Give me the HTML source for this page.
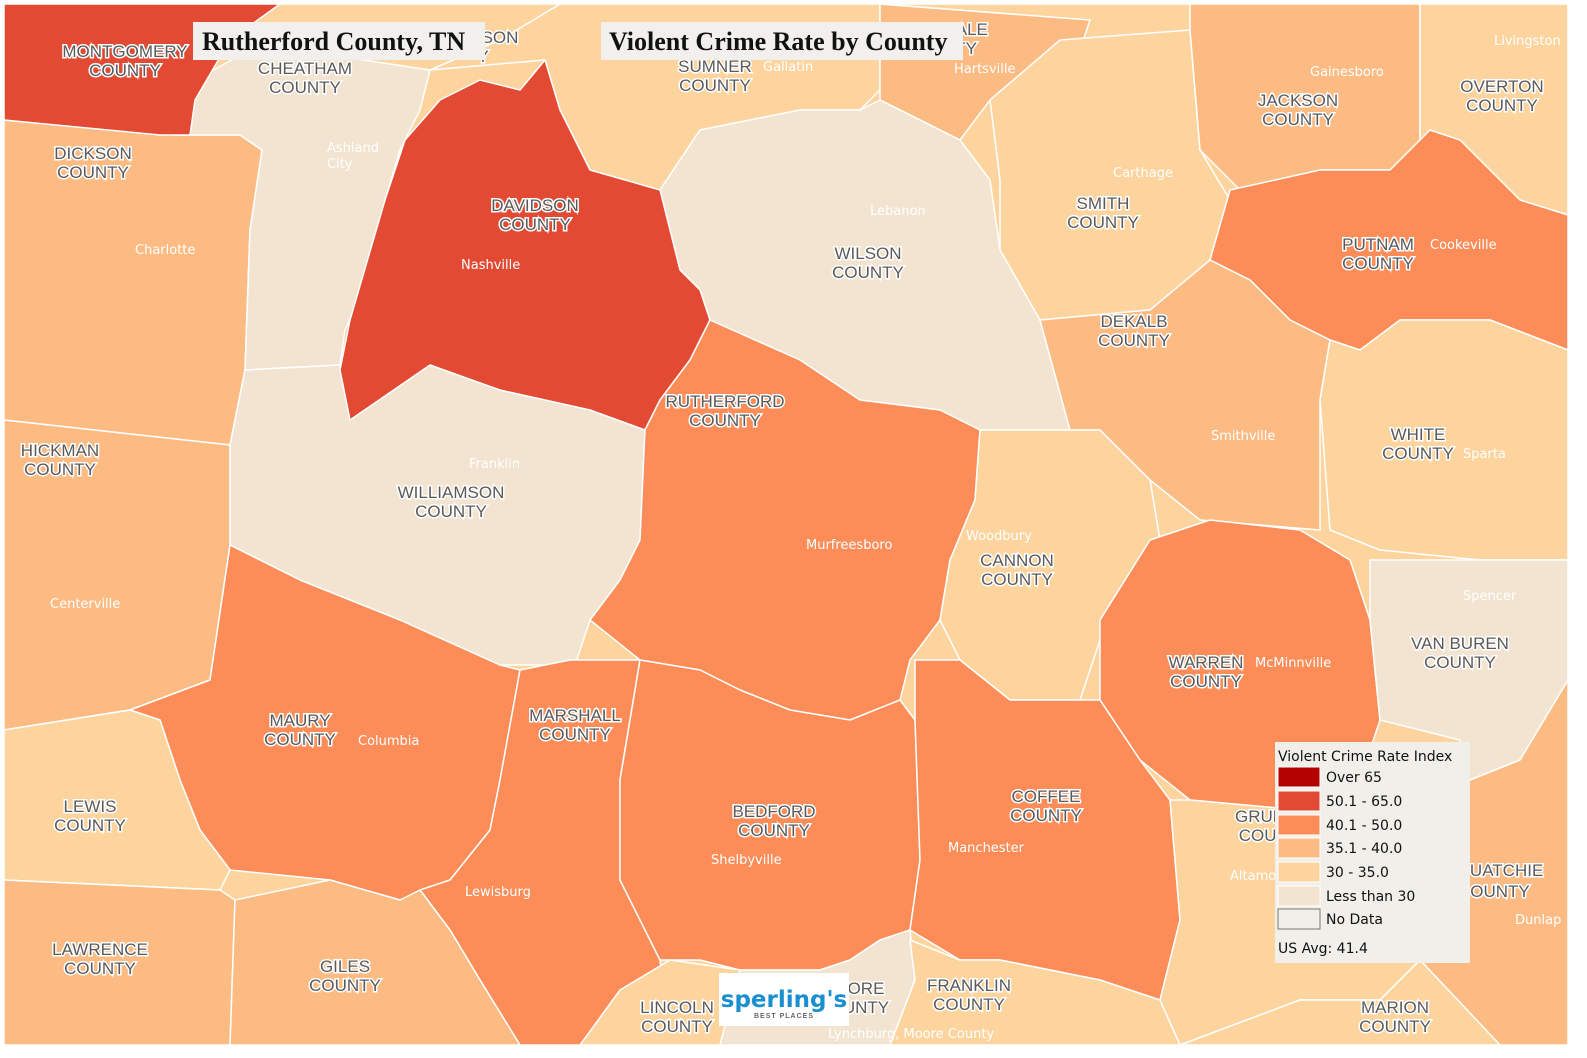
<!DOCTYPE html>
<html><head><meta charset="utf-8"><style>
html,body{margin:0;padding:0;background:#fff;}
svg{display:block;}
.cl{font-family:"Liberation Sans",sans-serif;font-size:17px;fill:#5a5a5a;stroke:#fff;stroke-width:3px;paint-order:stroke;text-anchor:middle;}
.ct{font-family:"DejaVu Sans","Liberation Sans",sans-serif;font-size:13px;fill:#fff;}
.lg{font-family:"DejaVu Sans","Liberation Sans",sans-serif;font-size:14px;fill:#111;}
.tt{font-family:"Liberation Serif",serif;font-size:26px;font-weight:bold;fill:#111;}
</style></head><body>
<svg width="1587" height="1058" viewBox="0 0 1587 1058" xmlns="http://www.w3.org/2000/svg">
<rect x="0" y="0" width="1587" height="1058" fill="#fff"/>
<g stroke="#fff" stroke-width="1.5" stroke-linejoin="round">
<rect x="4" y="4" width="1564" height="1041" fill="#fdd49e"/>
<polygon fill="#fdd49e" points="430,70 500,40 560,4 880,4 880,90 860,110 800,110 700,130 660,190 590,170 560,110 545,60"/>
<polygon fill="#fdbb84" points="880,4 1090,20 1080,50 990,100 960,140 880,100"/>
<polygon fill="#fdd49e" points="990,100 1060,40 1190,30 1200,150 1230,200 1210,260 1200,290 1150,310 1040,320 1000,250 1000,180"/>
<polygon fill="#fdbb84" points="1190,4 1420,4 1420,140 1390,170 1320,170 1240,190 1200,150 1190,30"/>
<polygon fill="#fdd49e" points="1420,4 1568,4 1568,215 1520,200 1460,140 1420,140"/>
<polygon fill="#fc8d59" points="1230,190 1320,170 1390,170 1430,130 1460,140 1520,200 1568,215 1568,350 1490,320 1400,320 1360,350 1330,340 1290,320 1250,280 1210,260"/>
<polygon fill="#f2e4d0" points="660,190 700,130 800,110 860,110 880,100 960,140 990,180 1000,250 1040,320 1070,430 980,430 940,410 860,400 800,360 710,320 700,290 680,270"/>
<polygon fill="#fdbb84" points="1040,320 1150,310 1210,260 1250,280 1290,320 1330,340 1320,400 1320,530 1200,520 1150,480 1100,430 1070,430"/>
<polygon fill="#fdd49e" points="1330,340 1360,350 1400,320 1490,320 1568,350 1568,560 1480,560 1380,550 1330,530 1320,400"/>
<polygon fill="#fdbb84" points="4,120 175,135 240,135 262,150 250,230 245,370 230,445 4,420"/>
<polygon fill="#f2e4d0" points="175,135 195,80 250,50 330,55 430,70 420,110 400,150 385,200 380,240 360,300 345,330 340,365 245,370 250,230 262,150 240,135"/>
<polygon fill="#e34a33" points="4,4 280,4 230,40 195,100 190,135 160,135 4,120"/>
<polygon fill="#f2e4d0" points="230,445 245,370 340,365 350,420 430,365 500,390 590,410 645,430 640,540 620,580 590,620 575,665 500,665 400,620 300,580 230,545"/>
<polygon fill="#e34a33" points="340,370 350,320 385,200 405,140 440,100 480,80 520,90 545,60 560,110 590,170 660,190 680,270 700,290 710,320 690,360 660,400 645,430 590,410 500,390 430,365 350,420"/>
<polygon fill="#fdbb84" points="4,420 230,445 230,545 210,680 130,710 4,730"/>
<polygon fill="#fc8d59" points="645,430 660,400 690,360 710,320 800,360 860,400 940,410 980,430 975,500 950,560 940,620 910,660 900,700 850,720 790,710 740,690 700,670 640,660 590,620 620,580 640,540"/>
<polygon fill="#fdd49e" points="980,430 1070,430 1100,430 1150,480 1160,540 1120,600 1100,640 1080,700 1010,700 960,660 940,620 950,560 975,500"/>
<polygon fill="#fc8d59" points="1100,620 1150,540 1210,520 1300,530 1350,560 1370,620 1380,720 1360,780 1300,810 1190,800 1140,760 1100,700"/>
<polygon fill="#f2e4d0" points="1370,560 1480,560 1568,560 1568,680 1520,760 1470,780 1460,740 1380,720 1370,620"/>
<polygon fill="#fc8d59" points="130,710 210,680 230,545 300,580 400,620 500,665 520,670 500,780 490,830 450,880 400,900 330,880 230,870 200,830 180,780 160,720"/>
<polygon fill="#fdd49e" points="4,730 130,710 160,720 180,780 200,830 230,870 220,890 4,880"/>
<polygon fill="#fc8d59" points="520,670 570,660 640,660 620,780 620,880 660,960 670,1045 520,1045 480,980 450,930 420,890 450,880 490,830 500,780"/>
<polygon fill="#fc8d59" points="640,660 700,670 740,690 790,710 850,720 900,700 915,720 920,860 910,930 880,940 850,960 820,970 740,970 700,960 660,960 620,880 620,780"/>
<polygon fill="#fc8d59" points="915,660 960,660 1010,700 1080,700 1100,700 1140,760 1170,800 1180,920 1160,1000 1100,980 1000,960 960,960 910,930 920,860 915,720"/>
<polygon fill="#fdbb84" points="4,880 220,890 235,900 230,1045 4,1045"/>
<polygon fill="#fdbb84" points="235,900 330,880 400,900 420,890 450,930 480,980 520,1045 230,1045"/>
<polygon fill="#fdd49e" points="580,1045 620,990 670,960 740,970 720,1045"/>
<polygon fill="#f2e4d0" points="720,1045 740,970 820,970 850,960 880,940 910,930 915,980 890,1045"/>
<polygon fill="#fdd49e" points="890,1045 915,980 910,940 960,960 1000,960 1100,980 1160,1000 1180,1045"/>
<polygon fill="#fdd49e" points="1190,800 1300,810 1360,780 1420,800 1420,960 1380,1000 1300,1000 1180,1045 1160,1000 1180,920 1170,800"/>
<polygon fill="#fdbb84" points="1420,800 1470,780 1520,760 1568,680 1568,1045 1500,1045 1420,960"/>
<polygon fill="#fdd49e" points="1180,1045 1300,1000 1380,1000 1420,960 1500,1045"/>
</g>
<g class="cl">
<text x="125" y="57">MONTGOMERY</text><text x="125" y="76">COUNTY</text>
<text x="305" y="74">CHEATHAM</text><text x="305" y="93">COUNTY</text>
<text x="93" y="159">DICKSON</text><text x="93" y="178">COUNTY</text>
<text x="535" y="211">DAVIDSON</text><text x="535" y="230">COUNTY</text>
<text x="715" y="72">SUMNER</text><text x="715" y="91">COUNTY</text>
<text x="1298" y="106">JACKSON</text><text x="1298" y="125">COUNTY</text>
<text x="1502" y="92">OVERTON</text><text x="1502" y="111">COUNTY</text>
<text x="1103" y="209">SMITH</text><text x="1103" y="228">COUNTY</text>
<text x="868" y="259">WILSON</text><text x="868" y="278">COUNTY</text>
<text x="1378" y="250">PUTNAM</text><text x="1378" y="269">COUNTY</text>
<text x="1134" y="327">DEKALB</text><text x="1134" y="346">COUNTY</text>
<text x="725" y="407">RUTHERFORD</text><text x="725" y="426">COUNTY</text>
<text x="60" y="456">HICKMAN</text><text x="60" y="475">COUNTY</text>
<text x="451" y="498">WILLIAMSON</text><text x="451" y="517">COUNTY</text>
<text x="1418" y="440">WHITE</text><text x="1418" y="459">COUNTY</text>
<text x="1017" y="566">CANNON</text><text x="1017" y="585">COUNTY</text>
<text x="1460" y="649">VAN BUREN</text><text x="1460" y="668">COUNTY</text>
<text x="1206" y="668">WARREN</text><text x="1206" y="687">COUNTY</text>
<text x="300" y="726">MAURY</text><text x="300" y="745">COUNTY</text>
<text x="575" y="721">MARSHALL</text><text x="575" y="740">COUNTY</text>
<text x="90" y="812">LEWIS</text><text x="90" y="831">COUNTY</text>
<text x="774" y="817">BEDFORD</text><text x="774" y="836">COUNTY</text>
<text x="1046" y="802">COFFEE</text><text x="1046" y="821">COUNTY</text>
<text x="1260" y="822">GRUN</text><text x="1260" y="841">COUI</text>
<text x="1500" y="876">QUATCHIE</text><text x="1500" y="897">OUNTY</text>
<text x="100" y="955">LAWRENCE</text><text x="100" y="974">COUNTY</text>
<text x="345" y="972">GILES</text><text x="345" y="991">COUNTY</text>
<text x="677" y="1013">LINCOLN</text><text x="677" y="1032">COUNTY</text>
<text x="866" y="994">ORE</text><text x="866" y="1013">UNTY</text>
<text x="969" y="991">FRANKLIN</text><text x="969" y="1010">COUNTY</text>
<text x="1395" y="1013">MARION</text><text x="1395" y="1032">COUNTY</text>
<text x="960" y="35">SDALE</text><text x="960" y="54">NTY</text>
<text x="500" y="43">SON</text><text x="483" y="62">Y</text>
</g>
<g class="ct">
<text x="461" y="269">Nashville</text><text x="806" y="549">Murfreesboro</text>
<text x="135" y="254">Charlotte</text><text x="327" y="152">Ashland</text><text x="327" y="168">City</text>
<text x="469" y="468">Franklin</text><text x="50" y="608">Centerville</text>
<text x="358" y="745">Columbia</text><text x="465" y="896">Lewisburg</text>
<text x="711" y="864">Shelbyville</text><text x="948" y="852">Manchester</text>
<text x="1255" y="667">McMinnville</text><text x="966" y="540">Woodbury</text>
<text x="1211" y="440">Smithville</text><text x="1463" y="458">Sparta</text>
<text x="1430" y="249">Cookeville</text><text x="1113" y="177">Carthage</text>
<text x="870" y="215">Lebanon</text><text x="1310" y="76">Gainesboro</text>
<text x="954" y="73">Hartsville</text><text x="763" y="71">Gallatin</text>
<text x="1494" y="45">Livingston</text><text x="1463" y="600">Spencer</text>
<text x="1230" y="880">Altamo</text><text x="1515" y="924">Dunlap</text>
<text x="828" y="1038">Lynchburg, Moore County</text>
</g>
<rect x="193" y="22" width="292" height="38" fill="#f2f0ec"/>
<text class="tt" x="202" y="50">Rutherford County, TN</text>
<rect x="601" y="22" width="362" height="38" fill="#f2f0ec"/>
<text class="tt" x="609" y="50">Violent Crime Rate by County</text>
<rect x="1275" y="742" width="195" height="221" fill="#f0efea"/>
<text class="lg" x="1278" y="761">Violent Crime Rate Index</text>
<g stroke="#fff" stroke-width="1">
<rect x="1278" y="767" width="42" height="20" fill="#b30000"/>
<rect x="1278" y="791" width="42" height="20" fill="#e34a33"/>
<rect x="1278" y="815" width="42" height="20" fill="#fc8d59"/>
<rect x="1278" y="838" width="42" height="20" fill="#fdbb84"/>
<rect x="1278" y="862" width="42" height="20" fill="#fdd49e"/>
<rect x="1278" y="886" width="42" height="20" fill="#f2e4d0"/>
</g>
<rect x="1278" y="909" width="42" height="20" fill="#f0efea" stroke="#777" stroke-width="1"/>
<text class="lg" x="1326" y="782">Over 65</text>
<text class="lg" x="1326" y="806">50.1 - 65.0</text>
<text class="lg" x="1326" y="830">40.1 - 50.0</text>
<text class="lg" x="1326" y="853">35.1 - 40.0</text>
<text class="lg" x="1326" y="877">30 - 35.0</text>
<text class="lg" x="1326" y="901">Less than 30</text>
<text class="lg" x="1326" y="924">No Data</text>
<text class="lg" x="1278" y="953">US Avg: 41.4</text>
<rect x="719" y="973" width="130" height="53" fill="#fff"/>
<text x="784" y="1007" text-anchor="middle" font-family="'DejaVu Sans','Liberation Sans',sans-serif" font-size="23" font-weight="bold" fill="#1a8fcf">sperling's</text>
<text x="784" y="1018" text-anchor="middle" font-family="'Liberation Sans',sans-serif" font-size="7" font-weight="bold" fill="#666" letter-spacing="1">BEST PLACES</text>
</svg>
</body></html>
